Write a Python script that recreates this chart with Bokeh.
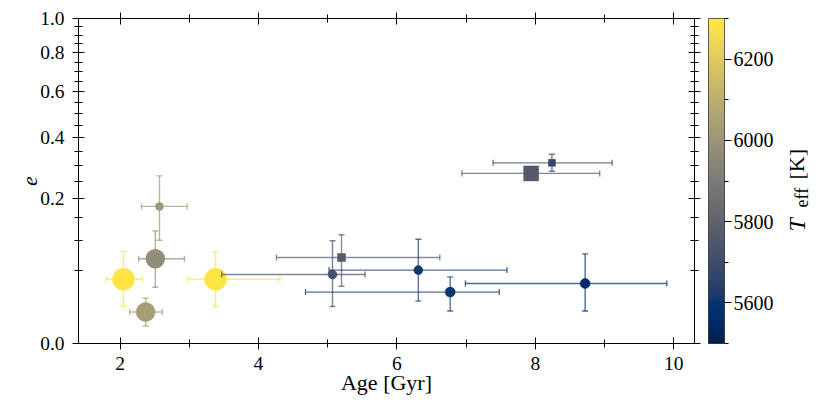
import numpy as np
from bokeh.plotting import figure
from bokeh.layouts import row
from bokeh.models import (ColumnDataSource, LinearAxis, FixedTicker, Range1d,
                          LinearColorMapper, ColorBar, Label, CDSView, IndexFilter)
from bokeh.palettes import Cividis256
from bokeh.transform import transform
from bokeh.embed import file_html
from bokeh.resources import INLINE

# ---- data ----
age        = [2.05, 3.38, 2.57, 2.51, 2.37, 5.20, 5.07, 6.31, 6.77, 8.24, 7.94, 8.72]
age_err_lo = [0.25, 0.40, 0.26, 0.24, 0.23, 0.94, 1.60, 1.29, 2.09, 0.85, 1.00, 1.73]
age_err_hi = [0.27, 0.93, 0.40, 0.42, 0.24, 1.42, 0.47, 1.28, 0.71, 0.87, 0.99, 1.18]
ecc        = [0.039, 0.039, 0.178, 0.068, 0.0094, 0.070, 0.045, 0.051, 0.025, 0.309, 0.274, 0.034]
ecc_err_lo = [0.026, 0.026, 0.077, 0.038, 0.0065, 0.039, 0.032, 0.034, 0.015, 0.028, 0.008, 0.024]
ecc_err_hi = [0.041, 0.041, 0.088, 0.052, 0.0100, 0.042, 0.055, 0.052, 0.017, 0.030, 0.008, 0.042]
teff       = [6285, 6285, 6010, 5970, 6035, 5765, 5715, 5610, 5605, 5675, 5760, 5550]
msize      = [22, 22, 8, 19, 19, 8, 9, 9, 10, 7, 15, 10]
mshape     = ["circle", "circle", "circle", "circle", "circle", "square", "circle",
              "circle", "circle", "square", "square", "circle"]

y_major = [0.0, 0.2, 0.4, 0.6, 0.8, 1.0]
y_major_labels = ["0.0", "0.2", "0.4", "0.6", "0.8", "1.0"]
y_minor = [0.05, 0.10, 0.15, 0.25, 0.30, 0.35, 0.45, 0.50, 0.55,
           0.65, 0.70, 0.75, 0.85, 0.90, 0.95]
x_major = [2, 4, 6, 8, 10]
x_minor = [1, 3, 5, 7, 9]
cb_major = [5600, 5800, 6000, 6200]
cb_minor = [5500, 5700, 5900, 6100, 6300]
teff_low, teff_high = 5500, 6300

# sqrt-scaled y axis
a = np.array(age); e = np.array(ecc)
src = ColumnDataSource(dict(
    x=a, x_lo=a - np.array(age_err_lo), x_hi=a + np.array(age_err_hi),
    y=np.sqrt(e),
    y_lo=np.sqrt(np.clip(e - np.array(ecc_err_lo), 0, None)),
    y_hi=np.sqrt(e + np.array(ecc_err_hi)),
    teff=teff, size=msize, marker=mshape,
))

mapper = LinearColorMapper(palette=Cividis256, low=teff_low, high=teff_high)
cmap = transform("teff", mapper)

FONT = "Liberation Serif"
TICK_FS = "19.5px"
FW, FH = 616, 325
TOP, BOTTOM = 18, 62

p = figure(frame_width=FW, frame_height=FH, x_range=Range1d(1.4, 10.3),
           y_range=Range1d(0, 1), output_backend="svg", toolbar_location=None,
           min_border_left=78, min_border_top=TOP, min_border_bottom=BOTTOM,
           min_border_right=8, x_axis_location=None, y_axis_location=None)
p.grid.visible = False
p.outline_line_color = "black"
p.background_fill_color = "white"
p.border_fill_color = "white"

sq = lambda vals: [float(np.sqrt(v)) for v in vals]

def style_axis(ax, ticker, standoff, labels=True):
    ax.ticker = ticker
    ax.axis_line_color = "black"
    ax.major_tick_in = 6
    ax.major_tick_out = 6
    ax.minor_tick_in = 4
    ax.minor_tick_out = 4
    ax.major_tick_line_color = "black"
    ax.minor_tick_line_color = "black"
    ax.major_label_text_font = FONT
    ax.major_label_text_color = "black"
    ax.major_label_standoff = standoff
    ax.axis_label_text_font = FONT
    ax.axis_label_text_font_style = "normal"
    ax.axis_label_text_color = "black"
    if labels:
        ax.major_label_text_font_size = TICK_FS
    else:
        ax.major_label_text_font_size = "1px"
        ax.major_label_overrides = {t: "" for t in ticker.ticks}

xb = LinearAxis(axis_label="Age [Gyr]")
style_axis(xb, FixedTicker(ticks=x_major, minor_ticks=x_minor), 7)
xb.axis_label_text_font_size = "22px"
xb.axis_label_standoff = -3
p.add_layout(xb, "below")

xt = LinearAxis()
style_axis(xt, FixedTicker(ticks=x_major, minor_ticks=x_minor), 0, labels=False)
p.add_layout(xt, "above")

yl = LinearAxis(axis_label="e")
style_axis(yl, FixedTicker(ticks=sq(y_major), minor_ticks=sq(y_minor)), 8)
yl.major_label_overrides = {float(np.sqrt(v)): s for v, s in zip(y_major, y_major_labels)}
yl.axis_label_text_font_size = "22px"
yl.axis_label_text_font_style = "italic"
yl.axis_label_standoff = 0
p.add_layout(yl, "left")

yr = LinearAxis()
style_axis(yr, FixedTicker(ticks=sq(y_major), minor_ticks=sq(y_minor)), 0, labels=False)
p.add_layout(yr, "right")

# error bars, caps and markers, point by point
for i in range(len(age)):
    view = CDSView(filter=IndexFilter([i]))
    p.segment("x_lo", "y", "x_hi", "y", source=src, view=view,
              line_color=cmap, line_alpha=0.7, line_width=1.4)
    p.segment("x", "y_lo", "x", "y_hi", source=src, view=view,
              line_color=cmap, line_alpha=0.7, line_width=1.4)
    for cx, cy, ang in (("x_lo", "y", np.pi / 2), ("x_hi", "y", np.pi / 2),
                        ("x", "y_lo", 0.0), ("x", "y_hi", 0.0)):
        p.scatter(cx, cy, source=src, view=view, marker="dash", size=6, angle=ang,
                  line_color=cmap, line_alpha=0.7, line_width=1.4)
    p.scatter("x", "y", source=src, view=view, marker="marker", size="size",
              fill_color=cmap, line_color=cmap, line_width=0.5)

# colour bar panel
W2 = 118
p2 = figure(frame_width=W2, frame_height=FH, x_range=Range1d(0, 1), y_range=Range1d(0, 1),
            output_backend="svg", toolbar_location=None, min_border_left=0,
            min_border_right=0, min_border_top=TOP, min_border_bottom=BOTTOM,
            x_axis_location=None, y_axis_location=None)
p2.grid.visible = False
p2.outline_line_color = None
p2.background_fill_color = "white"
p2.border_fill_color = "white"

cb = ColorBar(color_mapper=mapper, ticker=FixedTicker(ticks=cb_major, minor_ticks=cb_minor),
              width=16, height=FH, padding=0, margin=0, location=(6, 0),
              major_tick_in=0, major_tick_out=7, minor_tick_in=0, minor_tick_out=4,
              major_tick_line_color="black", minor_tick_line_color="black",
              bar_line_color="black", bar_line_width=0.6,
              label_standoff=2, major_label_text_font=FONT,
              major_label_text_font_size="20px", major_label_text_color="black",
              background_fill_alpha=0, border_line_color=None)
p2.add_layout(cb)

# colorbar title: T_eff [K], rotated
for txt, x, y, fs, style in (("T", 94, 112, "24px", "italic"),
                              ("eff", 99, 136, "18px", "normal"),
                              ("[K]", 94, 164, "22px", "normal")):
    p2.add_layout(Label(x=x, y=y, x_units="screen", y_units="screen", text=txt,
                        angle=np.pi / 2, text_font=FONT, text_font_size=fs,
                        text_font_style=style, text_color="black",
                        text_baseline="middle", text_align="left"))

layout = row(p, p2, spacing=0)
open("out.html", "w").write(file_html(layout, INLINE))
